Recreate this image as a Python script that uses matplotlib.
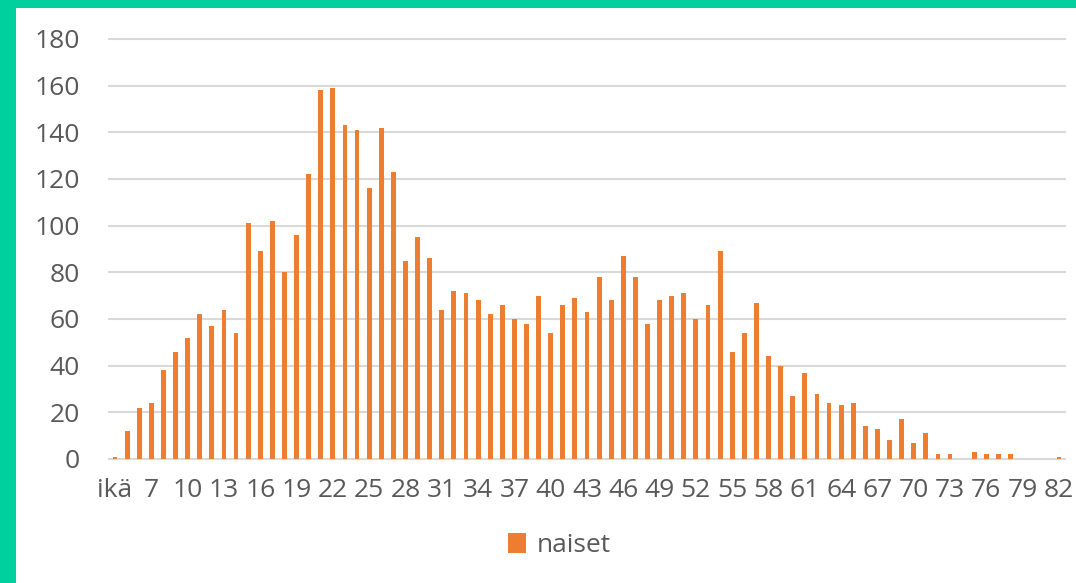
import matplotlib.pyplot as plt
from matplotlib.patches import Rectangle

plt.rcParams['font.family'] = ['Open Sans', 'DejaVu Sans']

# age categories (first one is the header cell "ikä")
ages = ['ikä'] + [str(a) for a in range(5, 83)]
naiset = [1,
          12, 22, 24, 38, 46, 52, 62, 57, 64, 54,
          101, 89, 102, 80, 96, 122, 158, 159, 143, 141,
          116, 142, 123, 85, 95, 86, 64, 72, 71, 68,
          62, 66, 60, 58, 70, 54, 66, 69, 63, 78,
          68, 87, 78, 58, 68, 70, 71, 60, 66, 89,
          46, 54, 67, 44, 40, 27, 37, 28, 24, 23,
          24, 14, 13, 8, 17, 7, 11, 2, 2, 0,
          3, 2, 2, 2, 0, 0, 0, 1]
y_ticks = list(range(0, 181, 20))

orange = '#ED7D31'
grey_txt = '#595959'
green = '#00D09E'

fig = plt.figure(figsize=(10.76, 5.83), dpi=100)
fig.patch.set_facecolor('white')
# green frame on the left and top
fig.patches.append(Rectangle((0, 0), 16 / 1076, 1, transform=fig.transFigure,
                             facecolor=green, edgecolor='none', zorder=0))
fig.patches.append(Rectangle((0, 1 - 8 / 583), 1, 8 / 583, transform=fig.transFigure,
                             facecolor=green, edgecolor='none', zorder=0))

ax = fig.add_axes([109 / 1076, 124 / 583, 956 / 1076, 420 / 583])
x = range(len(ages))
ax.bar(x, naiset, width=0.4, color=orange, label='naiset', zorder=3)

ax.set_xlim(-0.5, len(ages) - 0.5)
ax.set_ylim(0, 180)
ax.set_yticks(y_ticks)
ax.set_xticks(list(x)[::3])
ax.set_xticklabels(ages[::3])

ax.grid(axis='y', color='#D9D9D9', linewidth=1.5)
for gl in ax.get_ygridlines():
    gl.set_clip_on(False)
ax.set_axisbelow(True)
for s in ax.spines.values():
    s.set_visible(False)

ax.tick_params(axis='both', length=0, labelsize=19, colors=grey_txt)
ax.tick_params(axis='y', pad=21)
ax.tick_params(axis='x', pad=14)

fig.legend(loc='center', bbox_to_anchor=(0.52, 0.064), frameon=False,
           fontsize=19, labelcolor=grey_txt, handlelength=0.7,
           handleheight=0.75, handletextpad=0.4)

fig.savefig('out.png', dpi=100)
